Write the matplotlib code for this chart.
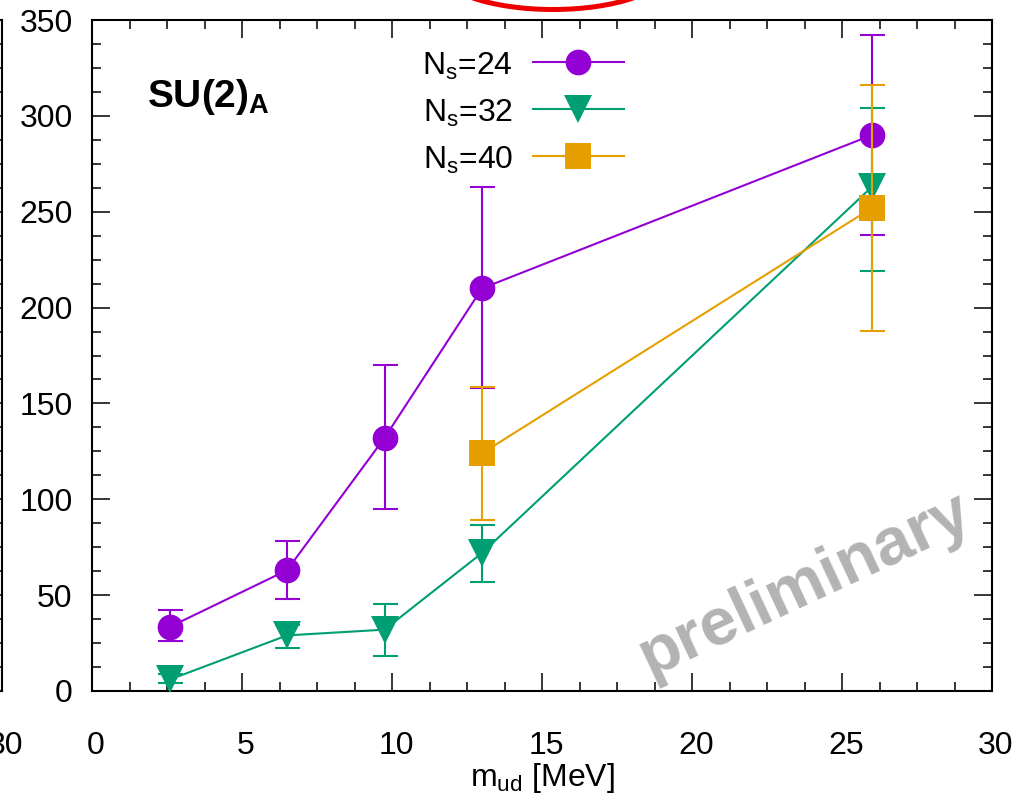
import matplotlib
matplotlib.use("Agg")
import matplotlib.pyplot as plt
from matplotlib.patches import Ellipse
from matplotlib.ticker import MultipleLocator
import matplotlib.transforms as mtransforms
import numpy as np

plt.rcParams['font.family'] = ['Liberation Sans', 'DejaVu Sans']
plt.rcParams['mathtext.fontset'] = 'custom'
plt.rcParams['mathtext.rm'] = 'Liberation Sans'
plt.rcParams['mathtext.it'] = 'Liberation Sans:italic'
plt.rcParams['mathtext.bf'] = 'Liberation Sans:bold'

# ---- data ----
m_ud_24 = [2.6, 6.5, 9.75, 13.0, 26.0]
ns24 = [33.5, 63.0, 132.0, 210.0, 290.0]
ns24_lo = [26.0, 48.0, 95.0, 158.0, 238.0]
ns24_hi = [42.0, 78.5, 170.0, 263.0, 342.0]

m_ud_32 = [2.6, 6.5, 9.75, 13.0, 26.0]
ns32 = [6.0, 29.0, 32.0, 72.0, 263.0]
ns32_lo = [4.0, 22.5, 18.5, 57.0, 219.0]
ns32_hi = [9.0, 34.5, 45.5, 86.5, 304.0]

m_ud_40 = [13.0, 26.0]
ns40 = [124.0, 252.0]
ns40_lo = [89.0, 188.0]
ns40_hi = [158.5, 316.0]

labels = [r'N$_\mathregular{s}$=24', r'N$_\mathregular{s}$=32', r'N$_\mathregular{s}$=40']
colors = ['#9400D3', '#009E73', '#E69F00']
markers = ['o', 'v', 's']
msizes = [18.5, 20, 18.5]

W, H = 1024, 796
fig = plt.figure(figsize=(W / 100, H / 100), dpi=100)
L, R, T, B = 92, 992, 20, 691
ax = fig.add_axes([L / W, 1 - B / H, (R - L) / W, (B - T) / H])

series = [(m_ud_24, ns24, ns24_lo, ns24_hi),
          (m_ud_32, ns32, ns32_lo, ns32_hi),
          (m_ud_40, ns40, ns40_lo, ns40_hi)]
for i, (x, y, lo, hi) in enumerate(series):
    y = np.array(y); lo = np.array(lo); hi = np.array(hi)
    ax.errorbar(x, y, yerr=[y - lo, hi - y], fmt='none', ecolor=colors[i],
                elinewidth=1.5, capsize=9, capthick=1.5, zorder=3 + 2 * i)
    ax.plot(x, y, color=colors[i], marker=markers[i], ms=msizes[i], lw=1.5,
            mew=0, zorder=4 + 2 * i)

def style_axes(a):
    a.set_xlim(0, 30)
    a.set_ylim(0, 350)
    a.xaxis.set_major_locator(MultipleLocator(5))
    a.xaxis.set_minor_locator(MultipleLocator(1.25))
    a.yaxis.set_major_locator(MultipleLocator(50))
    a.yaxis.set_minor_locator(MultipleLocator(12.5))
    a.tick_params(which='both', direction='in', top=True, right=True, width=1.1,
                  labelsize=23, colors='black')
    a.tick_params(which='major', length=13)
    a.tick_params(which='minor', length=6.5)
    a.tick_params(axis='x', pad=29)
    a.tick_params(axis='y', pad=14)
    for s in a.spines.values():
        s.set_linewidth(1.5)
    off = mtransforms.ScaledTranslation(4 / 100, 0, fig.dpi_scale_trans)
    for lab in a.xaxis.get_majorticklabels():
        lab.set_transform(lab.get_transform() + off)

style_axes(ax)

ax.set_xlabel(r'm$_\mathregular{ud}$ [MeV]', fontsize=23)
ax.xaxis.label.set_va('baseline')
ax.xaxis.set_label_coords(0.5, (B - 786) / (B - T))

# title label
ax.text((147 - L) / (R - L), (B - 107) / (B - T), r'$\mathbf{SU(2)_A}$',
        transform=ax.transAxes, fontsize=28, ha='left', va='baseline')

# legend (manual, gnuplot-style key)
rows = [62, 109, 156]
for i, yp in enumerate(rows):
    ya = (B - yp) / (B - T)
    ax.plot([(533 - L) / (R - L), (624 - L) / (R - L)], [ya, ya], color=colors[i],
            lw=1.5, transform=ax.transAxes, clip_on=False, zorder=10)
    ax.plot([(578 - L) / (R - L)], [ya], color=colors[i], marker=markers[i],
            ms=msizes[i], mew=0, transform=ax.transAxes, clip_on=False, zorder=10)
    ax.text((513 - L) / (R - L), (B - (yp + 13)) / (B - T), labels[i],
            transform=ax.transAxes, fontsize=23, ha='right', va='baseline')

# watermark
ax.text((805 - L) / (R - L), (B - 585) / (B - T), 'preliminary', transform=ax.transAxes,
        fontsize=48, fontweight='bold', color='#b3b3b3', rotation=25,
        ha='center', va='center', rotation_mode='anchor', zorder=1)

# neighbouring (cut-off) panel on the left
ax0 = fig.add_axes([(2 - 900) / W, 1 - B / H, 900 / W, (B - T) / H])
style_axes(ax0)
ax0.tick_params(labelleft=False)

# red ellipse annotation at the top
e = Ellipse((553 / W, 1 + 30.5 / H), 228 / W, 80 / H, transform=fig.transFigure,
            fill=False, edgecolor='#ee0000', lw=3.6, clip_on=False)
fig.add_artist(e)

fig.savefig('out.png', dpi=100)
